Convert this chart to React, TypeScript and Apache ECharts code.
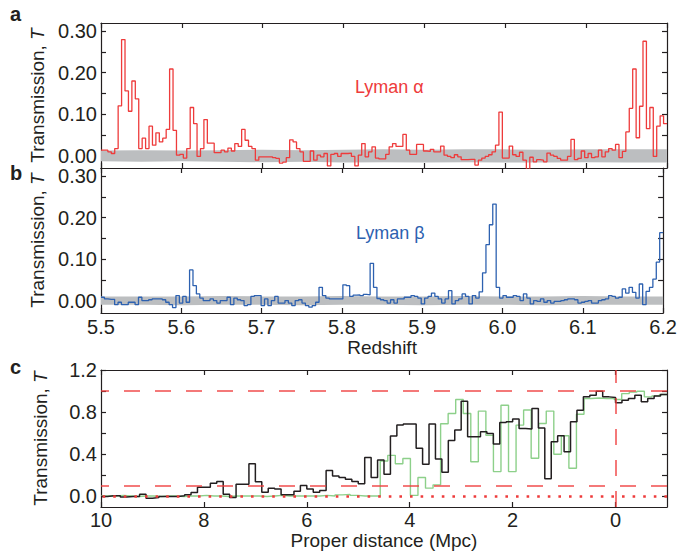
import React, { useEffect, useRef } from 'react';
import * as echarts from 'echarts';

// ---------- data ----------
const Z_START = 5.5;
const Z_END = 6.2;

// Lyman alpha transmission, 165 equal redshift bins from 5.5 to 6.2
const LYA_T = [
  0.013, 0.013, 0.009, 0.005, 0.017, 0.12, 0.28, 0.156, 0.107, 0.18,
  0.137, 0.017, 0.042, 0.017, 0.071, 0.025, 0.055, 0.033, 0.042, 0.063,
  0.209, 0.061, 0.001, 0.003, -0.006, 0.017, 0.116, 0.077, -0.002, 0.017,
  0.087, 0.03, 0.03, 0.007, 0.007, 0.013, 0.009, 0.018, 0.011, 0.029,
  0.022, 0.063, 0.037, 0.022, 0.017, -0.011, -0.003, -0.003, -0.003, -0.003,
  -0.005, -0.007, -0.018, -0.016, -0.005, 0.038, 0.033, 0.017, 0.009, -0.014,
  -0.014, 0.011, -0.011, 0.001, -0.003, 0.005, -0.025, 0.003, 0.005, -0.002,
  0.005, 0.005, 0.006, -0.002, -0.025, 0.001, 0.029, -0.003, 0.009, 0.021,
  -0.006, -0.008, -0.008, 0.003, 0.021, 0.029, 0.022, 0.022, 0.051, 0.013,
  0.003, 0.003, 0.027, 0.027, 0.011, 0.01, 0.015, 0.009, 0.009, 0.023,
  0.001, -0.002, -0.005, 0.002, -0.003, -0.01, -0.01, -0.009, -0.009, -0.023,
  -0.011, -0.006, -0.002, 0.002, 0.009, 0.025, 0.105, -0.006, -0.006, 0.023,
  0.002, -0.002, 0.008, -0.011, -0.033, -0.004, -0.015, -0.01, -0.011, -0.015,
  0.006, 0.001, -0.002, -0.007, -0.011, -0.011, -0.002, 0.039, -0.01, -0.007,
  0.011, -0.005, 0.005, -0.005, -0.003, 0.013, -0.003, 0.009, 0.017, 0.013,
  0.027, -0.005, 0.01, 0.057, 0.114, 0.209, 0.043, 0.119, 0.276, 0.065,
  0.116, -0.002, 0.071, 0.096, 0.077,
];

// Lyman beta transmission, 165 equal redshift bins from 5.5 to 6.2
const LYB_T = [
  0.008, 0.004, 0.003, 0.003, -0.01, -0.004, -0.01, -0.01, -0.004, -0.004,
  -0.01, 0.008, 0.0, 0.0, 0.002, 0.004, 0.004, 0.004, 0.002, -0.004,
  -0.01, -0.017, 0.012, -0.006, 0.01, -0.004, 0.074, 0.036, 0.016, 0.006,
  0.0, 0.0, 0.004, 0.0, -0.006, 0.0, 0.0, 0.008, -0.01, 0.006,
  0.002, 0.0, -0.012, -0.01, 0.01, 0.012, 0.012, -0.012, 0.004, -0.012,
  0.0, 0.01, -0.006, -0.006, 0.0, -0.006, -0.012, 0.0, 0.002, -0.006,
  -0.012, -0.016, -0.012, -0.004, 0.032, 0.012, 0.006, 0.004, 0.004, 0.004,
  0.004, 0.038, 0.036, 0.01, 0.013, 0.014, 0.012, 0.015, 0.014, 0.09,
  0.032, 0.005, 0.002, 0.0, -0.006, 0.002, -0.006, 0.004, 0.004, 0.008,
  0.008, 0.012, 0.01, 0.006, -0.008, 0.006, 0.01, 0.018, 0.01, 0.004,
  -0.006, 0.004, 0.024, -0.008, 0.0, 0.004, 0.016, 0.01, -0.008, 0.012,
  0.006, 0.021, 0.067, 0.135, 0.183, 0.233, 0.032, 0.006, 0.012, 0.008,
  0.008, 0.012, 0.01, 0.0, 0.016, 0.006, -0.008, 0.0, -0.002, 0.004,
  -0.004, 0.0, -0.006, -0.002, -0.002, 0.0, 0.002, 0.004, 0.004, 0.002,
  -0.006, -0.004, -0.002, 0.0, -0.006, -0.006, 0.0, 0.002, 0.004, 0.012,
  0.01, 0.006, 0.008, 0.028, 0.018, 0.032, 0.02, 0.006, 0.04, -0.01,
  0.022, 0.032, 0.052, 0.093, 0.164,
];

// noise bands (grey), sampled along redshift
const BAND_Z = [5.5, 5.55, 5.6, 5.65, 5.7, 5.75, 5.8, 5.85, 5.9, 5.95, 6.0, 6.05, 6.1, 6.15, 6.2];
const LYA_BAND_HI = [0.012, 0.013, 0.012, 0.013, 0.014, 0.013, 0.014, 0.015, 0.014, 0.015, 0.015, 0.014, 0.015, 0.015, 0.015];
const LYA_BAND_LO = [-0.014, -0.015, -0.014, -0.015, -0.016, -0.015, -0.017, -0.016, -0.017, -0.016, -0.017, -0.017, -0.016, -0.017, -0.017];
const LYB_BAND_HI = [0.01, 0.01, 0.01, 0.011, 0.01, 0.01, 0.011, 0.01, 0.01, 0.011, 0.01, 0.01, 0.011, 0.01, 0.01];
const LYB_BAND_LO = [-0.01, -0.01, -0.011, -0.01, -0.01, -0.011, -0.01, -0.01, -0.011, -0.01, -0.01, -0.011, -0.01, -0.01, -0.01];

// panel c: proper distance (Mpc) from 10 down to -1
const D_START = 10;
const D_END = -1;
// black curve, 88 equal bins
const BLACK_T = [
  0.0, 0.006, 0.006, -0.006, 0.0, 0.0, 0.022, -0.016, -0.01, 0.0,
  0.0, 0.0, 0.006, 0.016, 0.038, 0.088, 0.088, 0.126, 0.142, 0.022,
  -0.01, 0.117, 0.117, 0.31, 0.14, 0.04, 0.079, 0.07, 0.016, 0.016,
  0.05, 0.104, 0.07, 0.04, 0.057, 0.246, 0.195, 0.18, 0.164, 0.142,
  0.12, 0.37, 0.18, 0.346, 0.21, 0.573, 0.677, 0.687, 0.687, 0.457,
  0.306, 0.687, 0.356, 0.23, 0.53, 0.63, 0.904, 0.567, 0.567, 0.614,
  0.598, 0.498, 0.702, 0.709, 0.734, 0.646, 0.64, 0.835, 0.65, 0.167,
  0.52, 0.576, 0.425, 0.709, 0.819, 0.945, 0.961, 0.998, 0.945, 0.939,
  0.89, 0.913, 0.929, 0.961, 0.898, 0.929, 0.954, 0.967,
];
// green curve, 75 equal bins
const GREEN_T = [
  0.005, 0.005, 0.01, 0.005, 0.0, 0.005, 0.005, 0.0, 0.005, 0.005,
  0.0, 0.005, 0.005, 0.01, 0.005, 0.005, 0.0, 0.005, 0.005, 0.005,
  0.005, 0.0, 0.005, 0.01, 0.005, 0.005, 0.005, 0.005, 0.005, 0.01,
  0.005, 0.015, 0.02, 0.01, 0.005, 0.005, 0.005,
  0.337, 0.39, 0.31, 0.36, 0.01, 0.18, 0.079, 0.11, 0.69, 0.787,
  0.92, 0.787, 0.33, 0.81, 0.58, 0.236, 0.866, 0.236, 0.677, 0.82,
  0.362, 0.693, 0.81, 0.4, 0.576, 0.268, 0.78, 0.93, 0.935, 0.93,
  0.93, 0.92, 0.976, 0.99, 0.998, 0.945, 0.954, 0.967,
];

// reference levels in panel c
const DASHED_LEVELS = [1.0, 0.1];
const DOTTED_LEVEL = 0;
const QUASAR_D = 0;

// ticks and labels
const Z_TICKS = [5.5, 5.6, 5.7, 5.8, 5.9, 6.0, 6.1, 6.2];
const T_AB_TICKS = [0, 0.05, 0.1, 0.15, 0.2, 0.25, 0.3];
const T_AB_LABELS = [0, 0.1, 0.2, 0.3];
const D_TICKS = [10, 8, 6, 4, 2, 0];
const T_C_TICKS = [0, 0.2, 0.4, 0.6, 0.8, 1.0, 1.2];
const T_C_LABELS = [0, 0.4, 0.8, 1.2];

// ---------- styling ----------
const FONT = '"Liberation Sans", Arial, Helvetica, sans-serif';
const INK = '#231f20';
const RED = '#ee3b3b';
const BLUE = '#2d61b0';
const GREEN = '#8dd08a';
const GREY = '#bcbec0';

function stepData(values: number[], start: number, end: number) {
  const n = values.length;
  const w = (end - start) / n;
  const out: number[][] = values.map((v, i) => [start + i * w, v]);
  out.push([end, values[n - 1]]);
  return out;
}

function bandSeries(xi: number, lo: number[], hi: number[]) {
  return {
    type: 'custom',
    xAxisIndex: xi,
    yAxisIndex: xi,
    silent: true,
    z: 1,
    clip: true,
    data: [[BAND_Z[0], 0]],
    renderItem: (params: any, api: any) => {
      const pts: number[][] = [];
      for (let i = 0; i < BAND_Z.length; i++) pts.push(api.coord([BAND_Z[i], hi[i]]));
      for (let i = BAND_Z.length - 1; i >= 0; i--) pts.push(api.coord([BAND_Z[i], lo[i]]));
      return { type: 'polygon', shape: { points: pts }, style: { fill: GREY } };
    },
  };
}

const axisLineStyle = { show: true, onZero: false, lineStyle: { color: INK, width: 1.2 } };
const tickLabelStyle = { color: INK, fontSize: 20, fontFamily: FONT };
const titleStyle = { color: INK, fontSize: 19, fontFamily: FONT };

function xAxisDef(grid: number, pos: 'top' | 'bottom', opts: any) {
  return {
    type: 'value',
    gridIndex: grid,
    position: pos,
    splitLine: { show: false },
    axisLine: axisLineStyle,
    ...opts,
  };
}

export default function App() {
  const ref = useRef<HTMLDivElement>(null);
  useEffect(() => {
    if (!ref.current) return;
    const chart = echarts.init(ref.current, undefined, { renderer: 'svg' });

    const tickLine = { color: INK, width: 1.2 };
    const zTick = { inside: true, length: 5, customValues: Z_TICKS, lineStyle: tickLine };
    const tabTick = { inside: true, length: 5, customValues: T_AB_TICKS, lineStyle: tickLine };
    const dTick = { inside: true, length: 5, customValues: D_TICKS, lineStyle: tickLine };
    const tcTick = { inside: true, length: 5, customValues: T_C_TICKS, lineStyle: tickLine };

    const yName = {
      name: 'Transmission, {i|T}',
      nameLocation: 'middle',
      nameRotate: 90,
      nameGap: 51,
      nameTextStyle: {
        ...titleStyle,
        rich: { i: { ...titleStyle, fontStyle: 'italic' } },
      },
    };

    const zx = { min: Z_START, max: Z_END };
    const dx = { min: D_END, max: D_START, inverse: true };
    const tab = { min: -0.03, max: 0.32 };
    const tc = { min: -0.1, max: 1.2 };

    const option: any = {
      animation: false,
      backgroundColor: '#ffffff',
      grid: [
        { left: 101, right: 13, top: 23, height: 145 },
        { left: 101, right: 13, top: 168, height: 145 },
        { left: 101, right: 13, top: 370, height: 137 },
      ],
      xAxis: [
        xAxisDef(0, 'bottom', { ...zx, axisTick: zTick, axisLabel: { show: false } }),
        xAxisDef(0, 'top', { ...zx, axisTick: zTick, axisLabel: { show: false } }),
        xAxisDef(1, 'bottom', {
          ...zx,
          axisTick: zTick,
          axisLabel: { ...tickLabelStyle, margin: 4, customValues: Z_TICKS, formatter: (v: number) => v.toFixed(1) },
          name: 'Redshift',
          nameLocation: 'middle',
          nameGap: 25,
          nameTextStyle: titleStyle,
        }),
        xAxisDef(1, 'top', { ...zx, axisTick: zTick, axisLabel: { show: false } }),
        xAxisDef(2, 'bottom', {
          ...dx,
          axisTick: dTick,
          axisLabel: { ...tickLabelStyle, margin: 3, customValues: D_TICKS, formatter: (v: number) => String(v) },
          name: 'Proper distance (Mpc)',
          nameLocation: 'middle',
          nameGap: 22,
          nameTextStyle: titleStyle,
        }),
        xAxisDef(2, 'top', { ...dx, axisTick: dTick, axisLabel: { show: false } }),
      ],
      yAxis: [
        {
          type: 'value', gridIndex: 0, position: 'left', ...tab, splitLine: { show: false },
          axisLine: axisLineStyle, axisTick: tabTick,
          axisLabel: { ...tickLabelStyle, margin: 4, customValues: T_AB_LABELS, formatter: (v: number) => v.toFixed(2) },
          ...yName,
        },
        { type: 'value', gridIndex: 0, position: 'right', ...tab, splitLine: { show: false }, axisLine: axisLineStyle, axisTick: tabTick, axisLabel: { show: false } },
        {
          type: 'value', gridIndex: 1, position: 'left', ...tab, splitLine: { show: false },
          axisLine: axisLineStyle, axisTick: tabTick,
          axisLabel: { ...tickLabelStyle, margin: 4, customValues: T_AB_LABELS, formatter: (v: number) => v.toFixed(2) },
          ...yName,
        },
        { type: 'value', gridIndex: 1, position: 'right', ...tab, splitLine: { show: false }, axisLine: axisLineStyle, axisTick: tabTick, axisLabel: { show: false } },
        {
          type: 'value', gridIndex: 2, position: 'left', ...tc, splitLine: { show: false },
          axisLine: axisLineStyle, axisTick: tcTick,
          axisLabel: { ...tickLabelStyle, margin: 4, customValues: T_C_LABELS, formatter: (v: number) => v.toFixed(1) },
          ...yName,
        },
        { type: 'value', gridIndex: 2, position: 'right', ...tc, splitLine: { show: false }, axisLine: axisLineStyle, axisTick: tcTick, axisLabel: { show: false } },
      ],
      series: [
        { ...bandSeries(0, LYA_BAND_LO, LYA_BAND_HI), xAxisIndex: 0, yAxisIndex: 0 },
        {
          type: 'line', xAxisIndex: 0, yAxisIndex: 0, step: 'end', showSymbol: false, symbol: 'none',
          data: stepData(LYA_T, Z_START, Z_END), lineStyle: { color: RED, width: 1.3 }, z: 3, silent: true,
        },
        { ...bandSeries(2, LYB_BAND_LO, LYB_BAND_HI), xAxisIndex: 2, yAxisIndex: 2 },
        {
          type: 'line', xAxisIndex: 2, yAxisIndex: 2, step: 'end', showSymbol: false, symbol: 'none',
          data: stepData(LYB_T, Z_START, Z_END), lineStyle: { color: BLUE, width: 1.3 }, z: 3, silent: true,
        },
        {
          type: 'line', xAxisIndex: 4, yAxisIndex: 4, step: 'end', showSymbol: false, symbol: 'none',
          data: stepData(GREEN_T, D_START, D_END), lineStyle: { color: GREEN, width: 1.4 }, z: 3, silent: true,
        },
        {
          type: 'line', xAxisIndex: 4, yAxisIndex: 4, step: 'end', showSymbol: false, symbol: 'none',
          data: stepData(BLACK_T, D_START, D_END), lineStyle: { color: INK, width: 1.5 }, z: 4, silent: true,
          markLine: {
            silent: true, symbol: 'none', label: { show: false }, animation: false,
            data: [
              ...DASHED_LEVELS.map((v) => ({ yAxis: v, lineStyle: { color: RED, width: 1.5, type: [16, 15], opacity: 0.9 } })),
              { yAxis: DOTTED_LEVEL, lineStyle: { color: RED, width: 2.6, type: [2.6, 8] } },
              { xAxis: QUASAR_D, lineStyle: { color: RED, width: 1.5, type: [16, 15], opacity: 0.9 } },
            ],
          },
        },
      ],
      graphic: [
        { type: 'text', x: 10, y: 14, style: { text: 'a', fill: INK, font: `bold 20px ${FONT}`, textVerticalAlign: 'middle' } },
        { type: 'text', x: 10, y: 173, style: { text: 'b', fill: INK, font: `bold 20px ${FONT}`, textVerticalAlign: 'middle' } },
        { type: 'text', x: 10, y: 367, style: { text: 'c', fill: INK, font: `bold 20px ${FONT}`, textVerticalAlign: 'middle' } },
        { type: 'text', x: 355, y: 87, style: { text: 'Lyman α', fill: RED, font: `18px ${FONT}`, textVerticalAlign: 'middle' } },
        { type: 'text', x: 356, y: 233, style: { text: 'Lyman β', fill: BLUE, font: `18px ${FONT}`, textVerticalAlign: 'middle' } },
      ],
    };
    chart.setOption(option);
    return () => chart.dispose();
  }, []);
  return (
    <div
      ref={ref}
      style={{ position: 'fixed', left: 0, top: 0, width: 680, height: 552, background: '#fff' }}
    />
  );
}
